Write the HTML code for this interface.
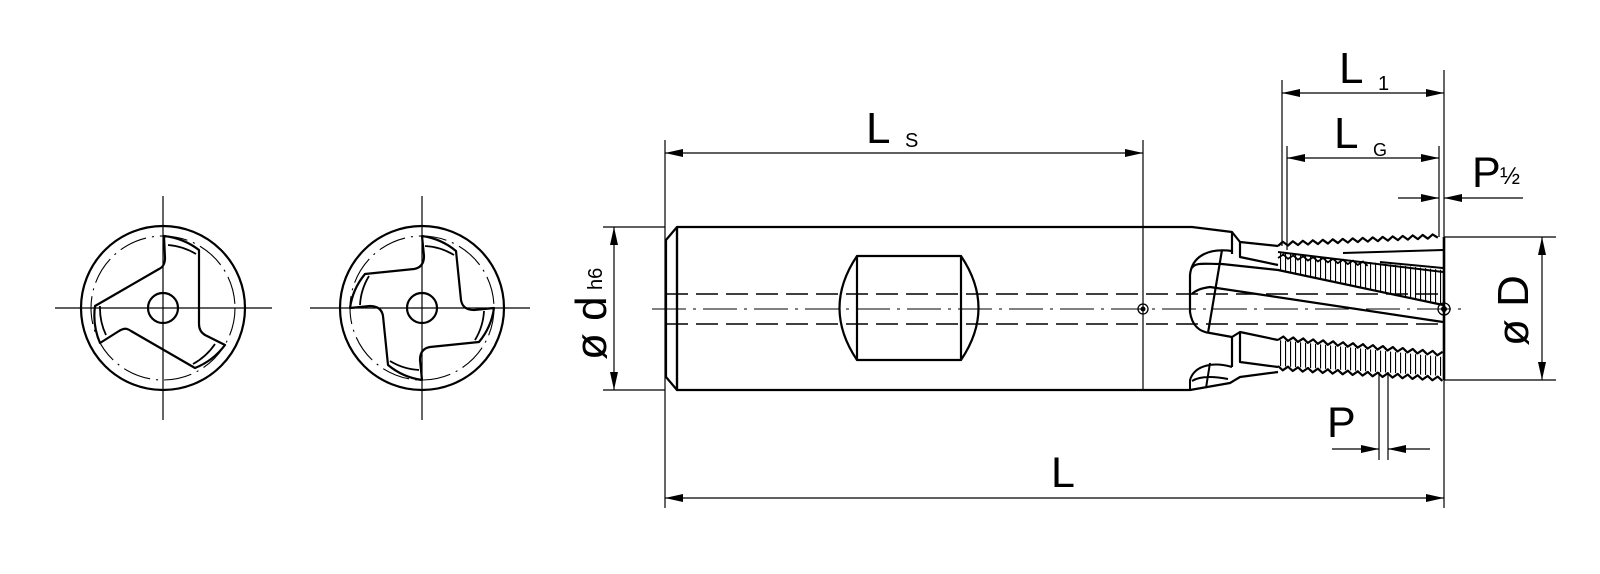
<!DOCTYPE html>
<html><head><meta charset="utf-8"><style>
html,body{margin:0;padding:0;background:#fff;}
svg{display:block;}
text{font-family:"Liberation Sans",sans-serif;fill:#000;}
</style></head><body>
<svg width="1600" height="574" viewBox="0 0 1600 574" xmlns="http://www.w3.org/2000/svg">
<defs>
<marker id="a" viewBox="0 0 18 8" refX="18" refY="4" markerWidth="18" markerHeight="8" markerUnits="userSpaceOnUse" orient="auto-start-reverse"><path d="M0,0 L18,4 L0,8 Z" fill="#000"/></marker>
<pattern id="h" width="5" height="10" patternUnits="userSpaceOnUse"><line x1="0.5" y1="0" x2="0.5" y2="10" stroke="#000" stroke-width="1.2"/></pattern>
</defs>

<!-- END VIEW 1 (3 flutes) -->
<g stroke="#000" fill="none">
<line x1="55" y1="308" x2="272" y2="308" stroke-width="1.2"/>
<line x1="163" y1="196" x2="163" y2="420" stroke-width="1.2"/>
<circle cx="163" cy="308" r="82" stroke-width="2.2"/>
<circle cx="163" cy="308" r="72" stroke-width="1.1" stroke-dasharray="28 6 2 6"/>
<circle cx="163" cy="308" r="15" stroke-width="2.2"/>
<g transform="translate(163,308)" stroke-width="2.2" stroke-linejoin="round">
<path d="M1,-72 L2,-50 C2,-44 0,-41 -4,-39 L-68,-2 A70,70 0 0 0 -63,35 L-44,23 C-39,20 -36,20 -32,23 L32,60 A70,70 0 0 0 62,37 L42,27 C37,24 36,20 36,16 L36,-58 A70,70 0 0 0 1,-72 Z"/>
<path d="M-63,-2 A63,63 0 0 0 -57,27 M30,56 A63,63 0 0 0 52,36 M33,-54 A63,63 0 0 0 5,-63" stroke-width="1.8"/>
</g>
</g>

<!-- END VIEW 2 (4 flutes) -->
<g stroke="#000" fill="none">
<line x1="310" y1="308" x2="530" y2="308" stroke-width="1.2"/>
<line x1="422" y1="196" x2="422" y2="420" stroke-width="1.2"/>
<circle cx="422" cy="308" r="82" stroke-width="2.2"/>
<circle cx="422" cy="308" r="72" stroke-width="1.1" stroke-dasharray="28 6 2 6"/>
<circle cx="422" cy="308" r="15" stroke-width="2.2"/>
<g transform="translate(422,308)" stroke-width="2.2" stroke-linejoin="round">
<path d="M0,-72 L2,-52 C2,-44 -2,-40 -8,-39 L-57,-34 A68,68 0 0 0 -72,0 L-52,-2 C-44,-2 -40,2 -39,8 L-34,57 A68,68 0 0 0 0,72 L-2,52 C-2,44 2,40 8,39 L57,34 A68,68 0 0 0 72,0 L52,2 C44,2 40,-2 39,-8 L34,-57 A68,68 0 0 0 0,-72 Z"/>
<path d="M-53,-32 A62,62 0 0 0 -62,-3 M-32,53 A62,62 0 0 0 -3,62 M53,32 A62,62 0 0 0 62,3 M32,-53 A62,62 0 0 0 3,-62" stroke-width="1.8"/>
</g>
</g>

<!-- MAIN VIEW -->
<g stroke="#000" fill="none" stroke-linejoin="round">
<line x1="652" y1="309" x2="1468" y2="309" stroke-width="1.1" stroke-dasharray="34 7 3 7"/>
<line x1="666" y1="294" x2="1440" y2="294" stroke-width="1.5" stroke-dasharray="22 8"/>
<line x1="666" y1="324" x2="1440" y2="324" stroke-width="1.5" stroke-dasharray="22 8"/>
<path d="M677,227 L1192,227 L1232,232 L1240,242 L1278,246" stroke-width="2.2"/>
<path d="M677,390 L1190,390 L1230,383 L1240,377 L1278,372" stroke-width="2.2"/>
<path d="M677,227 L666,240 L666,377 L677,390 Z" stroke-width="2.2"/>
<line x1="677" y1="227" x2="677" y2="390" stroke-width="2.2"/>
<rect x="857" y="256" width="104" height="104" stroke-width="2.2"/>
<path d="M857,256 Q822,308 857,360 M961,256 Q996,308 961,360" stroke-width="2.2"/>
<circle cx="1143" cy="309" r="5" stroke-width="1.3"/>
<circle cx="1143" cy="309" r="2.5" fill="#000" stroke="none"/>
<path d="M1232,232 L1232,254 M1240,242 L1240,257 L1278,265" stroke-width="2.2"/>
<path d="M1232,251 C1210,248 1192,255 1190,275 L1190,312 C1192,326 1200,332 1210,333 L1232,337 L1240,332 L1278,340" stroke-width="2.2"/>
<path d="M1222,250 L1208,333" stroke-width="2.2"/>
<path d="M1192,268 C1195,262 1205,264 1222,264 L1278,270 L1443,305" stroke-width="2.2"/>
<path d="M1192,294 C1196,290 1202,288 1210,287 L1443,322" stroke-width="2.2"/>
<path d="M1232,337 L1232,367 M1240,332 L1240,362 L1278,367" stroke-width="2.2"/>
<path d="M1232,367 C1215,362 1195,364 1190,380 L1190,390 M1210,363 L1206,388 M1192,381 C1200,376 1212,376 1228,379" stroke-width="2"/>
<polygon points="1278,252 1443,270 1443,305 1278,270" fill="url(#h)" stroke="none"/>
<path d="M1278,252 L1443,272" stroke-width="2"/>
<path d="M1343,253 L1443,250 M1380,262 L1443,268" stroke-width="2"/>
<path d="M1278,246 l5,-4 l5,4 l5,-4 l5,4 l5,-4 l5,4 l5,-4 l5,4 l5,-4 l5,4 l5,-4 l5,4 l5,-4 l5,4 l5,-4 l5,4 l5,-4 l5,4 l5,-4 l5,4 l5,-4 l5,4 l5,-4 l5,4 l5,-4 l5,4 l5,-4 l5,4 l5,-4 l5,4 l5,-4 l5,3.5" stroke-width="2.2" transform="rotate(-2.8 1278 246)"/>
<path d="M1278,258 l5,-4 l5,4 l5,-4 l5,4 l5,-4 l5,4 l5,-4 l5,4 l5,-4 l5,4 l5,-4 l5,4 l5,-4 l5,4 l5,-4 l5,4 l5,-4 l5,4" stroke-width="1.8" transform="rotate(5 1278 258)"/>
<polygon points="1278,340 1443,357 1443,376 1278,366" fill="url(#h)" stroke="none"/>
<path d="M1278,340 l5,-4 l5,4 l5,-4 l5,4 l5,-4 l5,4 l5,-4 l5,4 l5,-4 l5,4 l5,-4 l5,4 l5,-4 l5,4 l5,-4 l5,4 l5,-4 l5,4 l5,-4 l5,4 l5,-4 l5,4 l5,-4 l5,4 l5,-4 l5,4 l5,-4 l5,4 l5,-4 l5,4 l5,-4 l5,4 l5,-4" stroke-width="2.2" transform="rotate(5.5 1278 340)"/>
<path d="M1278,366 l5,4 l5,-4 l5,4 l5,-4 l5,4 l5,-4 l5,4 l5,-4 l5,4 l5,-4 l5,4 l5,-4 l5,4 l5,-4 l5,4 l5,-4 l5,4 l5,-4 l5,4 l5,-4 l5,4 l5,-4 l5,4 l5,-4 l5,4 l5,-4 l5,4 l5,-4 l5,4 l5,-4 l5,4 l5,-4 l5,4" stroke-width="2.2" transform="rotate(3.8 1278 366)"/>
<line x1="1444" y1="237" x2="1444" y2="380" stroke-width="2.6"/>
<circle cx="1444" cy="309" r="6" stroke-width="1.3"/>
<circle cx="1444" cy="309" r="3" fill="#000" stroke="none"/>
</g>

<!-- DIMENSIONS -->
<g stroke="#000" stroke-width="1.2" fill="none">
<line x1="665" y1="140" x2="665" y2="508"/>
<line x1="1143" y1="140" x2="1143" y2="390"/>
<line x1="1282" y1="80" x2="1282" y2="246"/>
<line x1="1287" y1="146" x2="1287" y2="250"/>
<line x1="1439" y1="146" x2="1439" y2="237"/>
<line x1="1444" y1="70" x2="1444" y2="508"/>
<line x1="603" y1="227" x2="665" y2="227"/>
<line x1="603" y1="390" x2="665" y2="390"/>
<line x1="1444" y1="237" x2="1556" y2="237"/>
<line x1="1444" y1="380" x2="1556" y2="380"/>
<line x1="1379" y1="372" x2="1379" y2="460"/>
<line x1="1388" y1="372" x2="1388" y2="460"/>
<line x1="665" y1="153" x2="1143" y2="153" marker-start="url(#a)" marker-end="url(#a)"/>
<line x1="1282" y1="93" x2="1444" y2="93" marker-start="url(#a)" marker-end="url(#a)"/>
<line x1="1287" y1="158" x2="1439" y2="158" marker-start="url(#a)" marker-end="url(#a)"/>
<line x1="1398" y1="198" x2="1439" y2="198" marker-end="url(#a)"/>
<line x1="1523" y1="198" x2="1444" y2="198" marker-end="url(#a)"/>
<line x1="614" y1="227" x2="614" y2="390" marker-start="url(#a)" marker-end="url(#a)"/>
<line x1="1542" y1="237" x2="1542" y2="380" marker-start="url(#a)" marker-end="url(#a)"/>
<line x1="665" y1="498" x2="1444" y2="498" marker-start="url(#a)" marker-end="url(#a)"/>
<line x1="1332" y1="449" x2="1379" y2="449" marker-end="url(#a)"/>
<line x1="1430" y1="449" x2="1388" y2="449" marker-end="url(#a)"/>
</g>

<!-- LABELS -->
<text x="866" y="143" font-size="44">L</text>
<text x="905" y="147" font-size="20">S</text>
<text x="1339" y="83" font-size="44">L</text>
<text x="1378" y="90" font-size="20">1</text>
<text x="1334" y="148" font-size="44">L</text>
<text x="1373" y="156" font-size="18">G</text>
<text x="1472" y="187" font-size="43">P</text>
<text x="1500" y="184" font-size="24">½</text>
<text x="1327" y="437" font-size="43">P</text>
<text x="1051" y="487" font-size="43">L</text>
<g transform="translate(606,360) rotate(-90)">
<text x="0" y="0" font-size="44">ø d</text>
<text x="70" y="-4" font-size="20">h6</text>
</g>
<g transform="translate(1528,346) rotate(-90)">
<text x="0" y="0" font-size="44">ø D</text>
</g>
</svg>
</body></html>
